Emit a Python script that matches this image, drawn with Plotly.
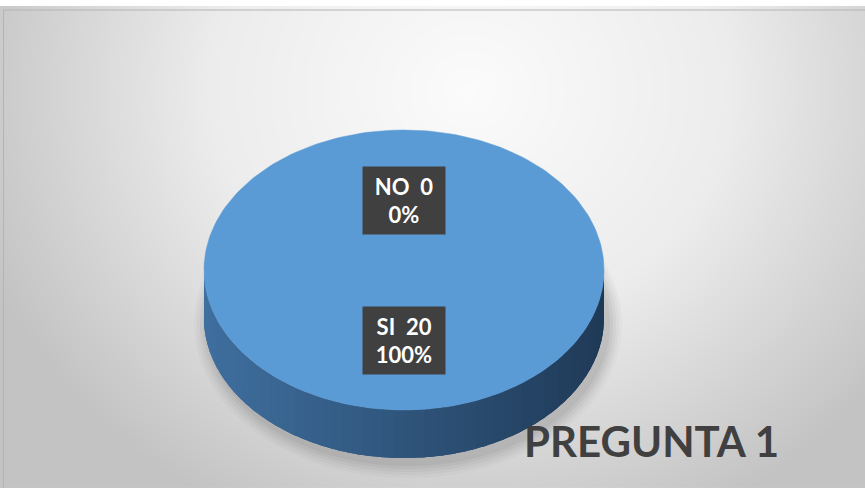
import numpy as np
import plotly.graph_objects as go

# ---- data ----
categories = ["NO", "SI"]
values = [0, 20]
title_text = "PREGUNTA 1"

W, H = 865, 488
cx, cy, rx, ry, depth = 404, 270, 200, 140, 48
top_color = "#5b9bd5"

fig = go.Figure()

# background radial gradient (frame area)
gx = np.linspace(4, W, 90)
gy = np.linspace(10, H, 60)
X, Y = np.meshgrid(gx, gy)
d = np.sqrt(((X - 470) / 520) ** 2 + ((Y - 90) / 470) ** 2)
z = np.clip(d, 0, 1)
fig.add_trace(go.Heatmap(x=gx, y=gy, z=z, zmin=0, zmax=1, zsmooth="best",
                         colorscale=[[0, "#fbfbfb"], [0.5, "#ececec"], [1, "#c3c3c3"]],
                         showscale=False, hoverinfo="skip"))

# soft shadow under the pie (drawn as traces so it stays below the pie)
tt = np.linspace(0, 2 * np.pi, 200)
for k, op in enumerate([0.04, 0.05, 0.06, 0.07, 0.08]):
    grow = 14 - k * 3
    sx = cx + 4 + (rx + grow) * np.sin(tt)
    sy = cy + depth + 6 - (ry + grow) * np.cos(tt)
    fig.add_trace(go.Scatter(x=sx, y=sy, fill="toself", mode="none",
                             fillcolor=f"rgba(90,90,90,{op})",
                             hoverinfo="skip", showlegend=False))

vals = np.array(values, dtype=float)
frac = vals / vals.sum()
starts = np.concatenate([[0], np.cumsum(frac)[:-1]]) * 2 * np.pi
ends = np.cumsum(frac) * 2 * np.pi

def ex(t):
    return cx + rx * np.sin(t)

def ey(t):
    return cy - ry * np.cos(t)

def lerp(c1, c2, f):
    a = [int(c1[i:i + 2], 16) for i in (1, 3, 5)]
    b = [int(c2[i:i + 2], 16) for i in (1, 3, 5)]
    return "rgb(%d,%d,%d)" % tuple(round(a[j] + (b[j] - a[j]) * f) for j in range(3))

# side (depth) of each slice, front half only; strips overlap to avoid seams
for s, e in zip(starts, ends):
    lo, hi = max(s, np.pi / 2), min(e, 3 * np.pi / 2)
    if hi <= lo:
        continue
    n = 60
    edges = np.linspace(lo, hi, n + 1)
    step = edges[1] - edges[0]
    for a0 in edges[:-1]:
        a1 = min(a0 + 2.5 * step, hi)
        t = np.linspace(a0, a1, 6)
        xs = np.concatenate([ex(t), ex(t[::-1])])
        ys = np.concatenate([ey(t), ey(t[::-1]) + depth])
        xm = (ex(a0 + step / 2) - (cx - rx)) / (2 * rx)
        col = lerp("#3f6f9f", "#1f3a57", xm)
        fig.add_trace(go.Scatter(x=xs, y=ys, fill="toself", mode="none",
                                 fillcolor=col, hoverinfo="skip", showlegend=False))

# top face of each slice
for cat, s, e in zip(categories, starts, ends):
    if e - s <= 0:
        continue
    t = np.linspace(s, e, 240)
    xs, ys = ex(t), ey(t)
    if e - s < 2 * np.pi - 1e-9:
        xs = np.concatenate([[cx], xs, [cx]])
        ys = np.concatenate([[cy], ys, [cy]])
    fig.add_trace(go.Scatter(x=xs, y=ys, fill="toself", mode="lines",
                             line=dict(width=0.5, color=top_color), fillcolor=top_color,
                             name=cat, hoverinfo="skip", showlegend=False))

# data labels
for cat, v, f, s, e in zip(categories, values, frac, starts, ends):
    mid = (s + e) / 2
    lx = cx + 0.5 * rx * np.sin(mid)
    ly = cy - 0.5 * ry * np.cos(mid)
    fig.add_annotation(x=lx, y=ly, xref="x", yref="y", showarrow=False,
                       text=f"<b>{cat}&nbsp;&nbsp;{v}<br>{f * 100:.0f}%</b>",
                       font=dict(family="Lato", size=22, color="white"),
                       bgcolor="#404040", borderpad=0, width=82, height=67,
                       align="center", valign="middle")

# title
fig.add_annotation(x=651, y=441, xref="x", yref="y", showarrow=False,
                   text=f"<b>{title_text}</b>",
                   font=dict(family="Lato", size=42, color="#404040"))

# frame border
fig.add_shape(type="rect", xref="x", yref="y", x0=3.5, x1=W + 2, y0=10, y1=H + 2,
              line=dict(color="#b4b4b4", width=1), layer="above")

fig.update_xaxes(range=[0, W], visible=False, fixedrange=True)
fig.update_yaxes(range=[H, 0], visible=False, fixedrange=True)
fig.update_layout(width=W, height=H, margin=dict(l=0, r=0, t=0, b=0),
                  paper_bgcolor="white", plot_bgcolor="white", showlegend=False)

fig.write_html("out.html", config={"displayModeBar": False},
               post_script="document.body.style.margin='0';")
